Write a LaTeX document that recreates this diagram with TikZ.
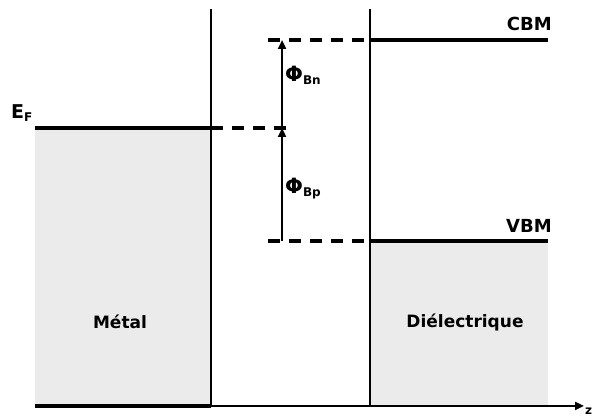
\documentclass[tikz,border=0pt]{standalone}
\usepackage{fontspec}
\setmainfont{DejaVu Sans}
\usepackage{tikz}
\usetikzlibrary{arrows.meta,positioning,calc}
\definecolor{BandGray}{RGB}{235,235,235}

\begin{document}
\begin{tikzpicture}[x=1pt,y=1pt,>={Triangle[length=9pt,width=8pt]},every node/.style={font=\bfseries\fontsize{18}{20}\selectfont,inner sep=0pt}]
\tikzset{level/.style={line width=3.4pt},wall/.style={line width=2.4pt},guide/.style={line width=3.4pt,dash pattern=on 12pt off 9pt},band/.style={fill=BandGray,draw=none}}
\useasboundingbox (0,0) rectangle (592,417);
% bands
\fill[band] (35,11) rectangle (211,289);
\fill[band] (370,11) rectangle (548,176);
% coordinates
\coordinate (ef0) at (35,289); \coordinate (ef1) at (211,289); \coordinate (ef2) at (290,289);
\coordinate (cb0) at (268,377); \coordinate (cb1) at (370,377); \coordinate (cb2) at (548,377);
\coordinate (vb0) at (268,176); \coordinate (vb1) at (370,176); \coordinate (vb2) at (548,176);
\coordinate (axl) at (35,11); \coordinate (axm) at (211,11); \coordinate (axr) at (584,11);
\coordinate (wm0) at (211,11); \coordinate (wm1) at (211,408);
\coordinate (wd0) at (370,11); \coordinate (wd1) at (370,408);
\coordinate (pb) at (282,176); \coordinate (pf) at (282,289); \coordinate (pc) at (282,377);
% levels and walls
\draw[level] (ef0)--(ef1); \draw[guide] (ef1)--(ef2);
\draw[level] (cb1)--(cb2); \draw[guide] (cb0)--(cb1);
\draw[level] (vb1)--(vb2); \draw[guide] (vb0)--(vb1);
\draw[wall] (wm0)--(wm1); \draw[wall] (wd0)--(wd1);
\draw[level] (axl)--(axm); \draw[wall,->] (axm)--(axr);
\draw[wall,->] (pb)--(pf); \draw[wall,->] (pf)--(pc);
% labels
\node[anchor=base west,font=\bfseries\fontsize{19}{21}\selectfont] (ef) at (11,298) {E\textsubscript{\fontsize{12}{12}\selectfont F}};
\node[anchor=base east] (cbm) at (552,386) {CBM};
\node[anchor=base east] (vbm) at (552,184) {VBM};
\node[anchor=west,font=\bfseries\fontsize{21}{23}\selectfont] (phin) at (285,342) {Φ\textsubscript{\fontsize{12}{12}\selectfont Bn}};
\node[anchor=west,font=\bfseries\fontsize{21}{23}\selectfont] (phip) at (285,228) {Φ\textsubscript{\fontsize{12}{12}\selectfont Bp}};
\node[font=\bfseries\fontsize{17}{19}\selectfont] (metal) at (120,95) {Métal};
\node[font=\bfseries\fontsize{17}{19}\selectfont] (diel) at (465,95) {Diélectrique};
\node[anchor=west,font=\bfseries\fontsize{12}{12}\selectfont] (z) at (585,6) {z};
\end{tikzpicture}
\end{document}
